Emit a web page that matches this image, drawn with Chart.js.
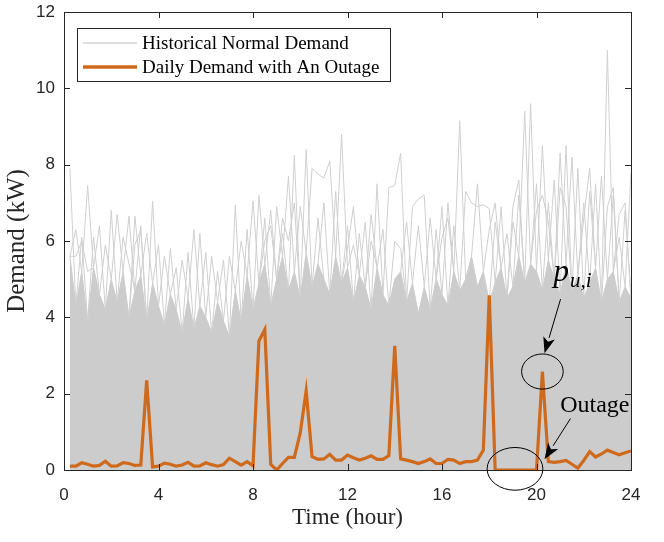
<!DOCTYPE html>
<html>
<head>
<meta charset="utf-8">
<script src="https://cdn.jsdelivr.net/npm/chart.js@4.4.1/dist/chart.umd.min.js"></script>
<style>
  html, body { margin: 0; padding: 0; background: #fff; }
  #wrap { width: 664px; height: 542px; }
</style>
</head>
<body>
<div id="wrap"><canvas id="myChart"></canvas></div>
<script>
// time of day, every 15 min
const hours = [
  0.25, 0.5, 0.75, 1, 1.25, 1.5, 1.75, 2, 2.25, 2.5, 2.75, 3, 3.25, 3.5, 3.75, 4,
  4.25, 4.5, 4.75, 5, 5.25, 5.5, 5.75, 6, 6.25, 6.5, 6.75, 7, 7.25, 7.5, 7.75, 8,
  8.25, 8.5, 8.75, 9, 9.25, 9.5, 9.75, 10, 10.25, 10.5, 10.75, 11, 11.25, 11.5, 11.75, 12,
  12.25, 12.5, 12.75, 13, 13.25, 13.5, 13.75, 14, 14.25, 14.5, 14.75, 15, 15.25, 15.5, 15.75, 16,
  16.25, 16.5, 16.75, 17, 17.25, 17.5, 17.75, 18, 18.25, 18.5, 18.75, 19, 19.25, 19.5, 19.75, 20,
  20.25, 20.5, 20.75, 21, 21.25, 21.5, 21.75, 22, 22.25, 22.5, 22.75, 23, 23.25, 23.5, 23.75, 24
];

// the day with the outage (kW)
const outageDay = [
  0.1, 0.1, 0.19, 0.15,  0.1, 0.12, 0.23, 0.1,  0.11, 0.19, 0.17, 0.12,  0.13, 2.35, 0.08, 0.1,
  0.18, 0.15, 0.1, 0.13,  0.2, 0.1, 0.11, 0.19,  0.14, 0.1, 0.14, 0.31,  0.22, 0.13, 0.22, 0.11,
  3.38, 3.68, 0.15, 0.0,  0.17, 0.33, 0.33, 0.97,  2.07, 0.35, 0.28, 0.29,  0.41, 0.26, 0.26, 0.39,
  0.32, 0.26, 0.31, 0.37,  0.28, 0.28, 0.38, 3.25,  0.29, 0.26, 0.22, 0.17,  0.22, 0.29, 0.17, 0.17,
  0.28, 0.26, 0.17, 0.22,  0.22, 0.26, 0.52, 4.58,  0, 0, 0, 0,  0, 0, 0, 0,
  2.58, 0.22, 0.2, 0.22,  0.25, 0.15, 0.05, 0.25,  0.48, 0.34, 0.42, 0.52,  0.46, 0.4, 0.45, 0.5
];

// upper edge of the dense block of historical days (kW)
const normalBand = [
  5.6, 4.3, 5.2, 3.9,  5.3, 4.6, 4.2, 5.0,  4.4, 5.2, 4.0, 4.7,  5.1, 3.9, 4.9, 4.3,
  3.8, 4.6, 4.2, 3.6,  4.5, 3.7, 4.3, 4.0,  3.6, 4.4, 3.9, 3.5,  4.7, 3.9, 5.1, 4.2,
  4.9, 5.4, 4.3, 5.0,  5.6, 4.7, 5.2, 4.5,  5.7, 4.8, 5.4, 5.0,  4.6, 5.6, 4.9, 5.3,
  4.4, 5.1, 4.8, 4.2,  5.3, 4.6, 4.3, 5.0,  5.2, 4.4, 4.9, 4.1,  4.8, 4.2, 5.0, 4.6,
  4.3, 5.2, 4.7, 5.0,  5.6, 4.8, 5.2, 4.4,  4.9, 5.3, 4.5, 4.8,  5.6, 4.9, 5.4, 5.2,
  4.7, 5.5, 5.0, 4.6,  5.4, 4.7, 5.1, 4.5,  4.9, 5.3, 4.4, 5.0,  5.2, 4.4, 4.8, 4.5
];

// single historical days reaching the highest values: start hour, then values
const peakStart = [
  0.25, 0.5, 0.75, 1, 1.5, 1.75, 2, 2.25, 2.75, 3, 3.25, 3.5, 3.75, 4, 4.5, 4.75,
  5, 5.5, 5.75, 6, 6.5, 6.75, 7, 7.25, 7.5, 8, 8.25, 8.5, 8.75, 9, 9.25, 9.5,
  9.75, 10, 10.25, 10.5, 11.5, 11.75, 12, 12.25, 12.5, 12.75, 13, 13.25, 13.5, 13.75, 14.5, 14.75,
  15.5, 15.75, 16, 16.25, 16.5, 16.75, 17, 18.25, 18.5, 18.75, 19, 19.25, 19.5, 19.75, 20, 20.25,
  20.5, 20.75, 21, 21.25, 21.5, 21.75, 22, 22.25, 22.5, 22.75, 23, 23.25, 23.5, 23.75, 24
];
const peakRuns = [
  [7.9], [6.3], [6.1], [7.45], [6.4], [5.9], [6.8], [6.7], [6.65], [6.65], [6.4], [6.2], [7.05], [5.9], [5.8], [5.3],
  [5.5], [6.3], [6.2], [5.7], [5.2], [5.5], [5.6], [6.95], [6.0], [7.05], [7.2], [6.6], [6.8], [6.9], [6.2], [7.7],
  [8.25], [6.9], [8.4], [7.9, 7.75, 7.65, 8.1], [7.3], [8.8], [6.4], [5.9], [6.2], [6.5], [6.0], [7.5], [6.3], [7.4, 7.45, 8.3], [6.5], [6.9, 7.1, 7.2],
  [6.6], [6.3], [6.9], [7.0], [6.4], [9.15], [7.3, 7.0, 6.9, 6.95, 6.85], [6.5], [6.9], [6.2], [6.5], [7.2], [9.4], [9.6], [7.5], [8.5],
  [7.0], [7.6], [8.3], [8.5], [8.2], [7.9], [7.0], [7.3], [7.5], [7.7], [11.0], [7.2], [6.1], [6.8], [7.8]
];

// more historical days in the 5.5 - 7.5 kW range
const midStart = [
  0.5, 1.25, 2.5, 3, 4.25, 5.25, 6.25, 7.75, 8.5, 9.25, 10.75, 11, 12, 13, 14, 15,
  16, 17.5, 18, 19, 20, 21, 22, 23, 23.5
];
const midRuns = [
  [5.6, 6.0, 5.2], [6.1], [6.1, 5.4], [5.9, 6.3], [5.6], [5.7], [5.6], [6.3], [6.0, 6.4], [6.6, 6.0, 7.0], [6.6], [7.0], [5.8, 6.9], [6.7], [6.0, 5.8], [6.4],
  [6.1, 6.6], [7.5], [6.3, 7.0], [6.9, 7.6], [6.8, 7.2, 6.5], [7.4, 6.9], [6.6, 7.9], [6.9, 7.4], [6.7, 7.0]
];

const xTicks = [0, 4, 8, 12, 16, 20, 24];
const yTicks = [0, 2, 4, 6, 8, 10, 12];

const orange = "#cf6a1c";
const gray = "#cccccc";
const ink = "#262626";

const bandPts = hours.map((h, i) => ({ x: h, y: normalBand[i] }));
const dayPts = hours.map((h, i) => ({ x: h, y: outageDay[i] }));

// each run leaves the dense block and comes back to it
function runPoints(starts, runs) {
  const pts = [];
  starts.forEach((t0, k) => {
    const i0 = hours.indexOf(t0);
    const run = runs[k];
    if (i0 > 0) pts.push({ x: hours[i0 - 1], y: normalBand[i0 - 1] });
    run.forEach((v, j) => pts.push({ x: hours[i0 + j], y: v }));
    const iEnd = i0 + run.length;
    if (iEnd < hours.length) pts.push({ x: hours[iEnd], y: normalBand[iEnd] });
    pts.push({ x: hours[Math.min(iEnd, hours.length - 1)], y: null });
  });
  return pts;
}

// notes drawn on the plot (data coordinates)
const notes = {
  ellipses: [
    { t: 20.25, v: 2.58, rt: 0.88, rv: 0.46 },
    { t: 19.09, v: 0.03, rt: 1.18, rv: 0.56 }
  ],
  arrows: [
    { t0: 21.02, v0: 4.48, t1: 20.34, v1: 3.06 },
    { t0: 21.44, v0: 1.35, t1: 20.34, v1: 0.28 }
  ]
};

const boxPlugin = {
  id: "box",
  afterDatasetsDraw(chart) {
    const { ctx, chartArea: a, scales: { x, y } } = chart;
    ctx.save();
    ctx.strokeStyle = ink;
    ctx.lineWidth = 1;
    ctx.beginPath();
    xTicks.forEach(v => {
      const px = Math.round(x.getPixelForValue(v)) + 0.5;
      ctx.moveTo(px, a.bottom); ctx.lineTo(px, a.bottom - 6);
      ctx.moveTo(px, a.top); ctx.lineTo(px, a.top + 6);
    });
    yTicks.forEach(v => {
      const py = Math.round(y.getPixelForValue(v)) + 0.5;
      ctx.moveTo(a.left, py); ctx.lineTo(a.left + 6, py);
      ctx.moveTo(a.right, py); ctx.lineTo(a.right - 6, py);
    });
    ctx.stroke();
    ctx.strokeRect(Math.round(a.left) + 0.5, Math.round(a.top) + 0.5,
      Math.round(a.right - a.left), Math.round(a.bottom - a.top));

    // ellipses
    ctx.strokeStyle = "#000";
    notes.ellipses.forEach(e => {
      const cx = x.getPixelForValue(e.t), cy = y.getPixelForValue(e.v);
      const rx = x.getPixelForValue(e.t + e.rt) - cx;
      const ry = cy - y.getPixelForValue(e.v + e.rv);
      ctx.beginPath();
      ctx.ellipse(cx, cy, rx, ry, 0, 0, Math.PI * 2);
      ctx.stroke();
    });

    // arrows
    notes.arrows.forEach(ar => {
      const x0 = x.getPixelForValue(ar.t0), y0 = y.getPixelForValue(ar.v0);
      const x1 = x.getPixelForValue(ar.t1), y1 = y.getPixelForValue(ar.v1);
      const ang = Math.atan2(y1 - y0, x1 - x0);
      const L = 16, W = 6;
      const bx = x1 - L * Math.cos(ang), by = y1 - L * Math.sin(ang);
      ctx.beginPath();
      ctx.moveTo(x0, y0); ctx.lineTo(bx, by);
      ctx.stroke();
      const nx = -Math.sin(ang), ny = Math.cos(ang);
      const mx = x1 - (L - 4) * Math.cos(ang), my = y1 - (L - 4) * Math.sin(ang);
      ctx.fillStyle = "#000";
      ctx.beginPath();
      ctx.moveTo(x1, y1);
      ctx.lineTo(bx + nx * W, by + ny * W);
      ctx.lineTo(mx, my);
      ctx.lineTo(bx - nx * W, by - ny * W);
      ctx.closePath();
      ctx.fill();
    });

    // labels of the notes
    ctx.fillStyle = "#000";
    ctx.textBaseline = "alphabetic";
    ctx.textAlign = "left";
    const px = x.getPixelForValue(20.72), py = y.getPixelForValue(4.95);
    ctx.font = "italic 31px 'Liberation Serif'";
    ctx.fillText("p", px, py);
    const pw = ctx.measureText("p").width;
    ctx.font = "italic 21px 'Liberation Serif'";
    ctx.fillText("u,i", px + pw + 1, py + 6);
    ctx.font = "24px 'Liberation Serif'";
    ctx.fillText("Outage", x.getPixelForValue(21.0), y.getPixelForValue(1.53));

    // legend
    const lx = a.left + 13, ly = a.top + 16, lw = 313, lh = 53;
    ctx.fillStyle = "#fff";
    ctx.fillRect(lx, ly, lw, lh);
    ctx.strokeStyle = ink;
    ctx.lineWidth = 1;
    ctx.strokeRect(lx + 0.5, ly + 0.5, lw, lh);
    const items = [chart.data.datasets[3], chart.data.datasets[0]];
    items.forEach((ds, i) => {
      const yy = ly + 15 + i * 24;
      ctx.strokeStyle = i === 0 ? "#dedede" : orange;
      ctx.lineWidth = i === 0 ? 2 : 3.5;
      ctx.beginPath();
      ctx.moveTo(lx + 6, yy); ctx.lineTo(lx + 60, yy);
      ctx.stroke();
      ctx.fillStyle = "#000";
      ctx.font = "19px 'Liberation Serif'";
      ctx.textBaseline = "middle";
      ctx.fillText(ds.label, lx + 65, yy + 1);
    });
    ctx.restore();
  }
};

new Chart(document.getElementById("myChart"), {
  type: "line",
  data: {
    datasets: [
      {
        label: "Daily Demand with An Outage",
        data: dayPts,
        borderColor: orange,
        borderWidth: 3.2,
        pointRadius: 0,
        fill: false,
        order: 0
      },
      {
        label: "peaks",
        data: runPoints(peakStart, peakRuns),
        borderColor: "#d0d0d0",
        borderWidth: 1,
        pointRadius: 0,
        fill: false,
        spanGaps: false,
        order: 1
      },
      {
        label: "mid",
        data: runPoints(midStart, midRuns),
        borderColor: "#cfcfcf",
        borderWidth: 1,
        pointRadius: 0,
        fill: false,
        spanGaps: false,
        order: 2
      },
      {
        label: "Historical Normal Demand",
        data: bandPts,
        borderColor: gray,
        backgroundColor: gray,
        borderWidth: 1,
        pointRadius: 0,
        fill: "origin",
        order: 3
      }
    ]
  },
  options: {
    responsive: true,
    maintainAspectRatio: false,
    animation: false,
    layout: { padding: { top: 12, right: 33, left: 0, bottom: 0 } },
    plugins: {
      legend: { display: false },
      tooltip: { enabled: false }
    },
    scales: {
      x: {
        type: "linear",
        min: 0,
        max: 24,
        afterBuildTicks: s => { s.ticks = xTicks.map(v => ({ value: v })); },
        afterFit: s => { s.height = 72; s.paddingLeft = 0; s.paddingRight = 0; },
        grid: { display: false, drawTicks: false },
        border: { display: false },
        ticks: { color: ink, padding: 15, font: { family: "'Liberation Sans'", size: 17 } },
        title: {
          display: true,
          text: "Time (hour)",
          color: ink,
          padding: { top: 0, bottom: 10 },
          font: { family: "'Liberation Serif'", size: 23 }
        }
      },
      y: {
        min: 0,
        max: 12,
        afterBuildTicks: s => { s.ticks = yTicks.map(v => ({ value: v })); },
        afterFit: s => { s.width = 64; s.paddingTop = 0; s.paddingBottom = 0; },
        grid: { display: false, drawTicks: false },
        border: { display: false },
        ticks: { color: ink, padding: 9, font: { family: "'Liberation Sans'", size: 17 } },
        title: {
          display: true,
          text: "Demand (kW)",
          color: ink,
          padding: { top: 2, bottom: 0 },
          font: { family: "'Liberation Serif'", size: 25 }
        }
      }
    }
  },
  plugins: [boxPlugin]
});
</script>
</body>
</html>
